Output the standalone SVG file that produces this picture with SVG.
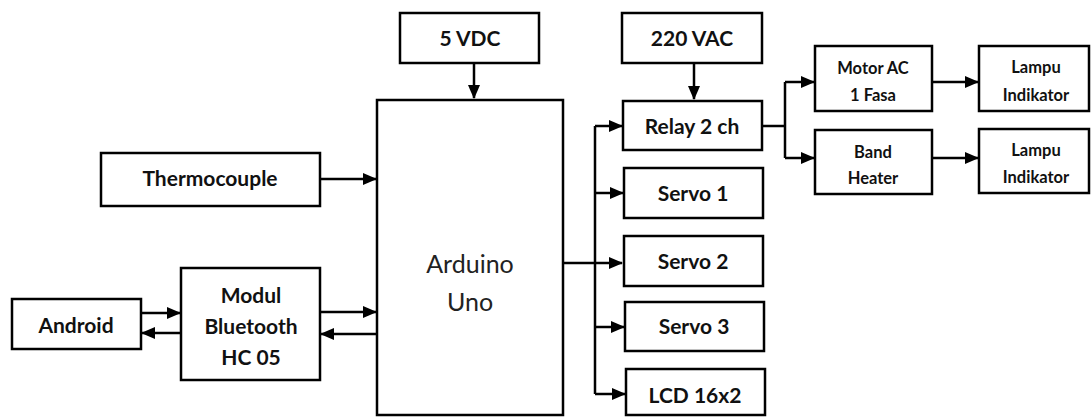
<svg xmlns="http://www.w3.org/2000/svg" width="1091" height="417" viewBox="0 0 1091 417">
<defs>
<marker id="ah" markerUnits="userSpaceOnUse" markerWidth="14" markerHeight="12" refX="13" refY="6" orient="auto">
<path d="M0,0 L14,6 L0,12 Z" fill="#000"/>
</marker>
<style>
.box{fill:#fff;stroke:#000;stroke-width:2.5}
.t{font-family:Lato,"Open Sans",sans-serif;font-weight:bold;font-size:21px;text-anchor:middle;fill:#111}
.s{font-family:Lato,"Open Sans",sans-serif;font-weight:bold;font-size:16.5px;text-anchor:middle;fill:#111}
.r{font-family:Lato,"Open Sans",sans-serif;font-size:25px;text-anchor:middle;fill:#222}
.c{fill:none;stroke:#000;stroke-width:2.5}
</style>
</defs>
<rect width="1091" height="417" fill="#fff"/>
<g id="connectors">
<path class="c" d="M474,63 V98" marker-end="url(#ah)"/>
<path class="c" d="M694,63 V99" marker-end="url(#ah)"/>
<path class="c" d="M320,179 H376" marker-end="url(#ah)"/>
<path class="c" d="M320,312 H376" marker-end="url(#ah)"/>
<path class="c" d="M377,334 H321" marker-end="url(#ah)"/>
<path class="c" d="M141,313 H180" marker-end="url(#ah)"/>
<path class="c" d="M181,333 H142" marker-end="url(#ah)"/>
<path class="c" d="M563,263 H622" marker-end="url(#ah)"/>
<path class="c" d="M595,126 V394"/>
<path class="c" d="M595,126 H622" marker-end="url(#ah)"/>
<path class="c" d="M595,193 H623" marker-end="url(#ah)"/>
<path class="c" d="M595,327 H624" marker-end="url(#ah)"/>
<path class="c" d="M595,394 H625" marker-end="url(#ah)"/>
<path class="c" d="M762,126 H785 M785,82 V158"/>
<path class="c" d="M785,82 H814" marker-end="url(#ah)"/>
<path class="c" d="M785,158 H814" marker-end="url(#ah)"/>
<path class="c" d="M932,82 H978" marker-end="url(#ah)"/>
<path class="c" d="M932,158 H978" marker-end="url(#ah)"/>
</g>
<g id="vdc"><rect class="box" x="400" y="13" width="139" height="50"/><text class="t" x="470" y="46">5 VDC</text></g>
<g id="vac"><rect class="box" x="622" y="13" width="140" height="50"/><text class="t" x="692" y="46">220 VAC</text></g>
<g id="arduino"><rect class="box" x="377" y="100" width="186" height="315"/><text class="r" x="470" y="273">Arduino</text><text class="r" x="470" y="311">Uno</text></g>
<g id="thermo"><rect class="box" x="101" y="153" width="219" height="53"/><text class="t" x="210" y="186">Thermocouple</text></g>
<g id="bt"><rect class="box" x="181" y="268" width="139" height="112"/><text class="t" x="251" y="303">Modul</text><text class="t" x="251" y="334">Bluetooth</text><text class="t" x="251" y="365">HC 05</text></g>
<g id="android"><rect class="box" x="12" y="299" width="129" height="50"/><text class="t" x="76" y="333">Android</text></g>
<g id="relay"><rect class="box" x="623" y="101" width="139" height="49"/><text class="t" x="692" y="134">Relay 2 ch</text></g>
<g id="servo1"><rect class="box" x="624" y="168" width="139" height="50"/><text class="t" x="693" y="201">Servo 1</text></g>
<g id="servo2"><rect class="box" x="624" y="236" width="139" height="50"/><text class="t" x="693" y="269">Servo 2</text></g>
<g id="servo3"><rect class="box" x="625" y="302" width="139" height="49"/><text class="t" x="694" y="334">Servo 3</text></g>
<g id="lcd"><rect class="box" x="626" y="369" width="139" height="46"/><text class="t" x="695" y="403">LCD 16x2</text></g>
<g id="motor"><rect class="box" x="815" y="46" width="117" height="65"/><text class="s" x="873" y="74">Motor AC</text><text class="s" x="873" y="101">1 Fasa</text></g>
<g id="heater"><rect class="box" x="815" y="130" width="117" height="64"/><text class="s" x="873" y="158">Band</text><text class="s" x="873" y="184">Heater</text></g>
<g id="lampu1"><rect class="box" x="979" y="46" width="110" height="65"/><text class="s" x="1036" y="73">Lampu</text><text class="s" x="1036" y="101">Indikator</text></g>
<g id="lampu2"><rect class="box" x="979" y="129" width="110" height="64"/><text class="s" x="1036" y="156">Lampu</text><text class="s" x="1036" y="183">Indikator</text></g>
</svg>
